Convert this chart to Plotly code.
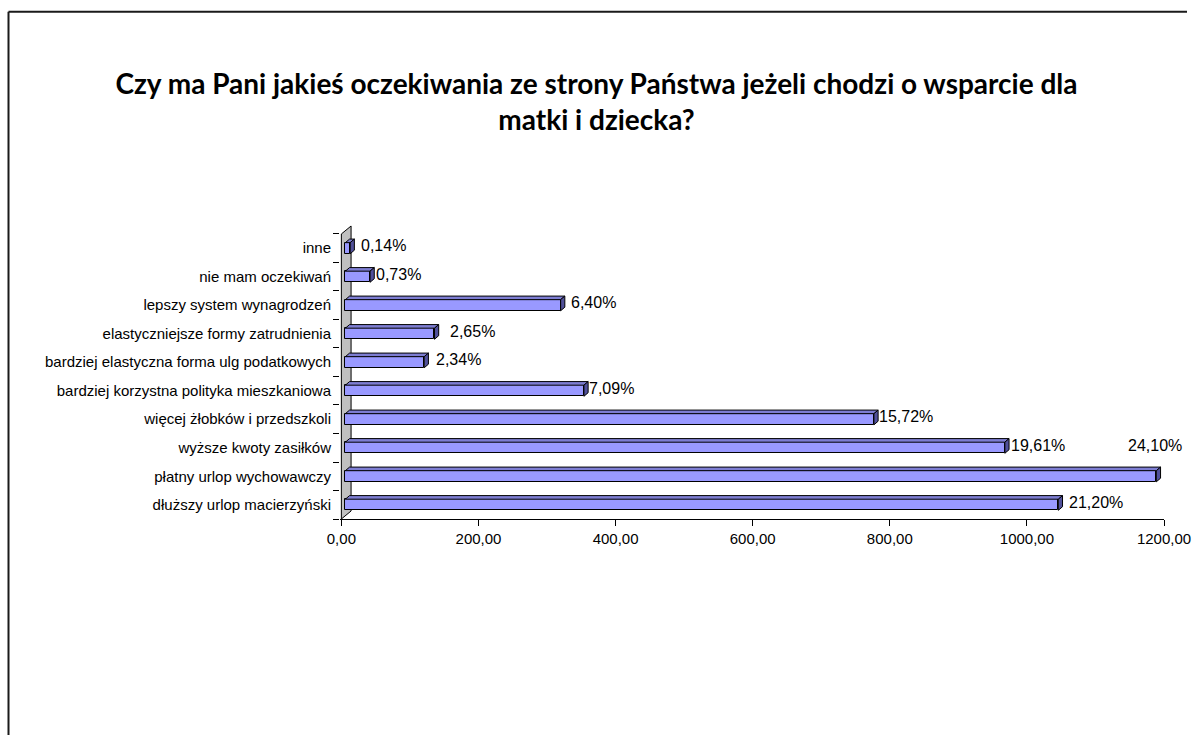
import plotly.graph_objects as go

# Survey answers, listed top to bottom as they appear on the chart
categories = [
    "inne",
    "nie mam oczekiwań",
    "lepszy system wynagrodzeń",
    "elastyczniejsze formy zatrudnienia",
    "bardziej elastyczna forma ulg podatkowych",
    "bardziej korzystna polityka mieszkaniowa",
    "więcej żłobków i przedszkoli",
    "wyższe kwoty zasiłków",
    "płatny urlop wychowawczy",
    "dłuższy urlop macierzyński",
]
counts = [7, 36, 314, 130, 115, 348, 771, 962, 1183, 1040]
shares = ["0,14%", "0,73%", "6,40%", "2,65%", "2,34%", "7,09%",
          "15,72%", "19,61%", "24,10%", "21,20%"]
x_tick_values = [0, 200, 400, 600, 800, 1000, 1200]
x_tick_labels = ["0,00", "200,00", "400,00", "600,00", "800,00", "1000,00", "1200,00"]

W, H = 1193, 735
ML, MR, MT, MB = 340, 29, 224, 215.5
X_RANGE = [-2, 1200]
Y_RANGE = [-0.5, 9.85]
PW, PH = W - ML - MR, H - MT - MB
PX_X = PW / (X_RANGE[1] - X_RANGE[0])      # pixels per x unit
PX_Y = PH / (Y_RANGE[1] - Y_RANGE[0])      # pixels per category

# pseudo-3D geometry, converted from pixels to data units
FRONT_BASE = 4.0 / PX_X
BAR_DX, BAR_DY = 4.2 / PX_X, 3.6 / PX_Y
WALL_DX, WALL_DY = 9.7 / PX_X, 8.0 / PX_Y
BAR_W = 0.39

FRONT = "#9999FF"
TOP = "#7D7DD2"
SIDE = "#50509A"
FONT = "Arial, Liberation Sans, sans-serif"

# horizontal gap (px) between each bar's end and its value label
LABEL_GAP = {"0,14%": 6, "0,73%": 1, "6,40%": 5, "2,65%": 10, "2,34%": 7,
             "7,09%": 0, "15,72%": 0, "19,61%": 1, "24,10%": -34, "21,20%": 5}

n = len(categories)
pos = [n - 1 - i for i in range(n)]

fig = go.Figure()

# front faces of the bars
fig.add_trace(go.Bar(
    y=pos, x=counts, base=FRONT_BASE, orientation="h", width=BAR_W,
    marker=dict(color=FRONT, line=dict(color="black", width=1)),
    hoverinfo="skip", showlegend=False,
))

# top and end faces
tx, ty, sx, sy = [], [], [], []
for p, v in zip(pos, counts):
    x0, x1 = FRONT_BASE, FRONT_BASE + v
    yb, yt = p - BAR_W / 2, p + BAR_W / 2
    tx += [x0, x1, x1 + BAR_DX, x0 + BAR_DX, x0, None]
    ty += [yt, yt, yt + BAR_DY, yt + BAR_DY, yt, None]
    sx += [x1, x1 + BAR_DX, x1 + BAR_DX, x1, x1, None]
    sy += [yb, yb + BAR_DY, yt + BAR_DY, yt, yb, None]

for xs, ys, col in ((tx, ty, TOP), (sx, sy, SIDE)):
    fig.add_trace(go.Scatter(
        x=xs, y=ys, mode="lines", fill="toself", fillcolor=col,
        line=dict(color="black", width=1), hoverinfo="skip", showlegend=False,
    ))

# left wall of the 3D plot area
wall = (f"M 0,{Y_RANGE[0]} L 0,{n - 0.5} L {WALL_DX},{n - 0.5 + WALL_DY} "
        f"L {WALL_DX},{Y_RANGE[0] + WALL_DY} Z")
shapes = [dict(type="path", path=wall, xref="x", yref="y", layer="below",
               fillcolor="#C0C0C0", line=dict(color="black", width=1))]

# chart frame (left and top edges; the rest lies outside the page)
def px_to_paper(px, py):
    return (px - ML) / PW, (H - MB - py) / PH

fx0, fy0 = px_to_paper(8.5, 11.3)
fx1, fy1 = px_to_paper(W - 6, H + 5)
frame = dict(color="#1a1a1a", width=2)
shapes.append(dict(type="line", xref="paper", yref="paper",
                   x0=fx0, y0=fy0, x1=fx0, y1=fy1, line=frame))
shapes.append(dict(type="line", xref="paper", yref="paper",
                   x0=fx0, y0=fy0, x1=fx1, y1=fy0, line=frame))

# value labels
annotations = []
for p, v, s in zip(pos, counts, shares):
    yshift = 2.5 + (PX_Y if s == "24,10%" else 0)
    annotations.append(dict(
        x=FRONT_BASE + v + BAR_DX, y=p, xref="x", yref="y", text=s,
        showarrow=False, xanchor="left", yanchor="middle",
        xshift=LABEL_GAP[s] - 1, yshift=yshift,
        font=dict(family=FONT, size=16, color="black"),
    ))

fig.update_layout(
    width=W, height=H,
    margin=dict(l=ML, r=MR, t=MT, b=MB, autoexpand=False),
    paper_bgcolor="white", plot_bgcolor="rgba(0,0,0,0)",
    title=dict(
        text="Czy ma Pani jakieś oczekiwania ze strony Państwa jeżeli chodzi o wsparcie dla<br>matki i dziecka?",
        x=0.5, xref="container", xanchor="center",
        y=1 - 94 / H, yref="container", yanchor="top",
        font=dict(family="Lato, Open Sans, sans-serif", size=28, color="black", weight="bold"),
    ),
    shapes=shapes,
    annotations=annotations,
    bargap=0,
    xaxis=dict(
        range=X_RANGE, tickvals=x_tick_values, ticktext=x_tick_labels,
        automargin=False,
        showgrid=False, zeroline=False, showline=True, linecolor="black", linewidth=1,
        ticks="outside", ticklen=6, tickcolor="black",
        tickfont=dict(family=FONT, size=15, color="black"),
    ),
    yaxis=dict(
        range=Y_RANGE, tickvals=pos, ticktext=categories,
        automargin=False,
        showgrid=False, zeroline=False, showline=False,
        ticks="", ticklabelstandoff=8,
        minor=dict(tickmode="array", tickvals=[k - 0.5 for k in range(n + 1)],
                   ticks="outside", ticklen=6, tickcolor="black", showgrid=False),
        tickfont=dict(family=FONT, size=15, color="black"),
    ),
)

fig.write_html("out.html")
